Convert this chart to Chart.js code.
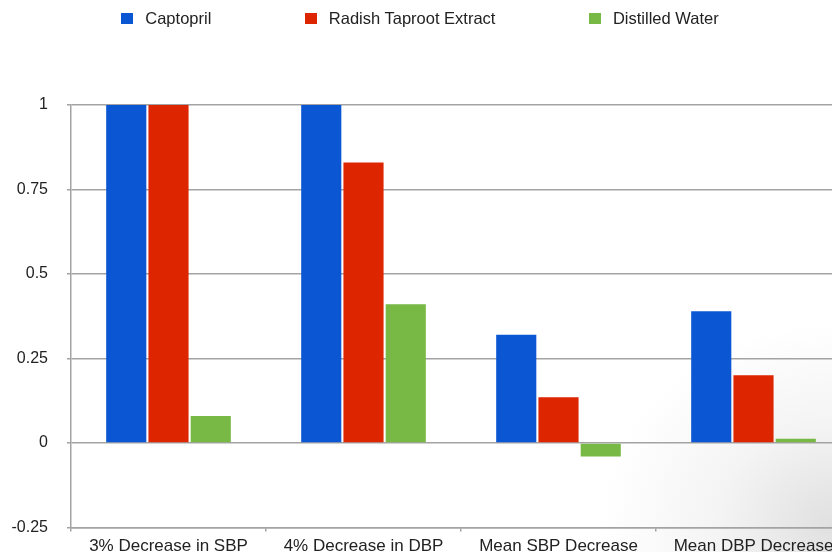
<!DOCTYPE html>
<html>
<head>
<meta charset="utf-8">
<script src="https://cdn.jsdelivr.net/npm/chart.js@4/dist/chart.umd.min.js"></script>
<style>
  html, body { margin: 0; padding: 0; width: 832px; height: 552px; overflow: hidden;
    background: radial-gradient(ellipse 230px 200px at 100% 95%, #e0e0e0 0%, #f4f4f4 50%, #ffffff 100%); }
  #wrap { position: absolute; left: 0; top: 0; width: 856px; height: 556px; }
  #legend { position: absolute; left: 4px; top: 9px; width: 832px; display: flex; justify-content: center;
    gap: 93.5px; font-family: "Liberation Sans", Arial, sans-serif; font-size: 16.5px; color: #222; }
  .item { display: flex; align-items: center; }
  .box { width: 12px; height: 11px; margin-right: 12px; }
</style>
</head>
<body>
<div id="wrap"><canvas id="c" width="856" height="556"></canvas></div>
<div id="legend"></div>
<script>
// Blood-pressure outcome per treatment group
const categories = ["3% Decrease in SBP", "4% Decrease in DBP", "Mean SBP Decrease", "Mean DBP Decrease"];
const seriesNames = ["Captopril", "Radish Taproot Extract", "Distilled Water"];
const captopril = [1, 1, 0.32, 0.39];
const radishExtract = [1, 0.83, 0.135, 0.2];
const distilledWater = [0.08, 0.41, -0.04, 0.012];
const yTickLabels = [-0.25, 0, 0.25, 0.5, 0.75, 1];
const seriesColors = ["#0b57d3", "#dd2500", "#77b944"];

const values = [captopril, radishExtract, distilledWater];
const datasets = seriesNames.map((name, i) => ({
  label: name,
  data: values[i],
  backgroundColor: seriesColors[i],
  borderWidth: 0,
  barPercentage: 0.95,
  categoryPercentage: 0.65
}));

// Legend row built from the same series
const legendEl = document.getElementById("legend");
seriesNames.forEach((name, i) => {
  const it = document.createElement("div");
  it.className = "item";
  const b = document.createElement("span");
  b.className = "box";
  b.style.background = seriesColors[i];
  const t = document.createElement("span");
  t.textContent = name;
  it.appendChild(b); it.appendChild(t);
  legendEl.appendChild(it);
});

const gridGray = "#a3a3a3";
Chart.defaults.font.family = '"Liberation Sans", Arial, sans-serif';
Chart.defaults.color = "#222";

new Chart(document.getElementById("c"), {
  type: "bar",
  data: { labels: categories, datasets },
  options: {
    responsive: false,
    animation: false,
    layout: { padding: { top: 105, right: 5, left: 0, bottom: 0 } },
    plugins: { legend: { display: false }, tooltip: { enabled: false } },
    scales: {
      x: {
        afterFit: s => { s.height = 25; },
        grid: { drawOnChartArea: false, drawTicks: true, tickLength: 4, color: gridGray, lineWidth: 1.5, offset: true },
        border: { display: true, color: gridGray, width: 1.5 },
        ticks: { font: { size: 17 }, padding: 5, maxRotation: 0, autoSkip: false }
      },
      y: {
        min: yTickLabels[0],
        max: yTickLabels[yTickLabels.length - 1],
        afterBuildTicks: s => { s.ticks = yTickLabels.map(v => ({ value: v })); },
        afterFit: s => { s.width = 71; },
        grid: { color: gridGray, lineWidth: 1.5, tickLength: 4 },
        border: { display: true, color: gridGray, width: 1.5 },
        ticks: { font: { size: 16 }, padding: 19, callback: v => String(v) }
      }
    }
  }
});
</script>
</body>
</html>
